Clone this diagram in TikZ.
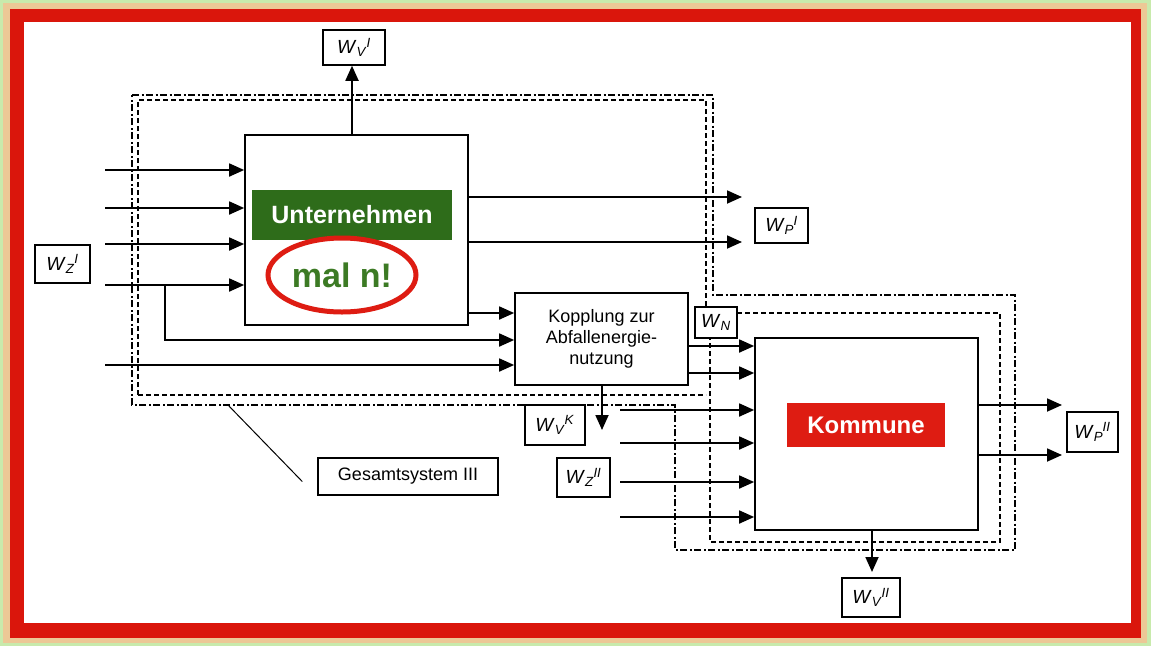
\documentclass[tikz,border=0pt]{standalone}
\usepackage{fontspec}
\setmainfont{Liberation Sans}
\usetikzlibrary{arrows.meta,shapes.geometric,calc}
\definecolor{framered}{RGB}{218,22,12}
\definecolor{frametan}{RGB}{236,200,150}
\definecolor{framegreen}{RGB}{200,234,172}
\definecolor{ugreen}{RGB}{46,108,26}
\definecolor{mgreen}{RGB}{60,122,36}
\definecolor{kred}{RGB}{222,28,18}
\newcommand\Wl[2]{\textit{W}\textsubscript{\textit{#1}}\kern-0.5pt\textsuperscript{\textit{#2}}}
\begin{document}
\begin{tikzpicture}[x=1pt,y=-1pt,
  blk/.style={draw,line width=1.7pt,inner sep=0pt},
  wbox/.style={draw,line width=1.5pt,inner sep=0pt,font=\fontsize{19}{19}\selectfont},
  arr/.style={line width=1.8pt,-{Triangle[length=15pt,width=13pt]}},
  dd/.style={line width=1.7pt,dash pattern=on 7pt off 2.5pt on 2pt off 2.5pt},
  ds/.style={line width=1.7pt,dash pattern=on 5pt off 3pt}]
\useasboundingbox (0,0) rectangle (1151,646);
% frame
\fill[framegreen] (0,0) rectangle (1151,646);
\fill[frametan] (3,3) rectangle (1147,643);
\fill[framered] (10,9) rectangle (1141,638);
\fill[white] (24,22) rectangle (1131,623);

% system boundaries
\draw[dd] (132,95) -- (713,95) -- (713,295) -- (1015,295) -- (1015,550) -- (675,550) -- (675,405) -- (132,405) -- cycle;
\draw[ds] (138,395) -- (138,100) -- (706,100) -- (706,307);
\draw[ds] (737,313) -- (1000,313) -- (1000,542) -- (710,542) -- (710,338);
\draw[ds] (138,395) -- (706,395);

% main blocks
\node[blk,minimum width=223pt,minimum height=190pt] (U) at (356.5,230) {};
\node[fill=ugreen,minimum width=200pt,minimum height=50pt,inner sep=0pt,text=white,font=\fontsize{25}{25}\selectfont\bfseries] (UL) at (352,215) {Unternehmen};
\node[ellipse,draw=kred,line width=5pt,minimum width=148pt,minimum height=74pt,inner sep=0pt,text=mgreen,font=\fontsize{34}{34}\selectfont\bfseries] (ML) at (342,275) {mal n!};
\node[blk,minimum width=173pt,minimum height=92pt,align=center,font=\fontsize{18}{21}\selectfont] (K) at (601.5,339) {Kopplung zur\\Abfallenergie-\\nutzung};
\node[blk,minimum width=223pt,minimum height=192pt] (KO) at (866.5,434) {};
\node[fill=kred,minimum width=158pt,minimum height=44pt,inner sep=0pt,text=white,font=\fontsize{24}{24}\selectfont\bfseries] (KL) at (866,425) {Kommune};

% W boxes
\node[wbox,minimum width=62pt,minimum height=35pt] (WVI) at (354,47.5) {\Wl{V}{I}};
\node[wbox,minimum width=55pt,minimum height=38pt] (WZI) at (62.5,264) {\Wl{Z}{I}};
\node[wbox,minimum width=53pt,minimum height=35pt] (WPI) at (781.5,225.5) {\Wl{P}{I}};
\node[wbox,minimum width=42pt,minimum height=31pt,fill=white] (WN) at (716,322.5) {\textit{W}\textsubscript{\textit{N}}};
\node[wbox,minimum width=60pt,minimum height=40pt] (WVK) at (555,425) {\Wl{V}{K}};
\node[wbox,minimum width=53pt,minimum height=39pt] (WZII) at (583.5,477.5) {\Wl{Z}{II}};
\node[wbox,minimum width=51pt,minimum height=40pt] (WPII) at (1092.5,432) {\Wl{P}{II}};
\node[wbox,minimum width=58pt,minimum height=39pt] (WVII) at (871,597.5) {\Wl{V}{II}};
\node[wbox,minimum width=180pt,minimum height=37pt,font=\fontsize{18}{18}\selectfont] (G) at (408,476.5) {Gesamtsystem III};

% free ends
\coordinate (i1) at (105,170);
\coordinate (i2) at (105,208);
\coordinate (i3) at (105,244);
\coordinate (i4) at (105,285);
\coordinate (i5) at (105,365);
\coordinate (br) at (165,285);
\coordinate (o1) at (742,197);
\coordinate (o2) at (742,242);
\coordinate (kb) at (602,430);
\coordinate (c1) at (620,410);
\coordinate (c2) at (620,443);
\coordinate (c3) at (620,482);
\coordinate (c4) at (620,517);
\coordinate (p1) at (1062,405);
\coordinate (p2) at (1062,455);
\coordinate (vb) at (872,572);
\coordinate (gs) at (228,405);

% Unternehmen inputs
\foreach \c in {i1,i2,i3,i4} \draw[arr] (\c) -- (\c -| U.west);
\draw[arr] (br) -- (165,340) -- (K.west |- 0,340);
\draw[arr] (i5) -- (i5 -| K.west);
\draw[arr] (U.east |- 0,313) -- (K.west |- 0,313);
% Unternehmen outputs
\draw[arr] (U.north -| 352,0) -- (WVI.south -| 352,0);
\draw[arr] (o1 -| U.east) -- (o1);
\draw[arr] (o2 -| U.east) -- (o2);
% Kopplung outputs
\draw[arr] (K.east |- 0,346) -- (KO.west |- 0,346);
\draw[arr] (K.east |- 0,373) -- (KO.west |- 0,373);
\draw[arr] (K.south -| kb) -- (kb);
% Kommune inputs
\foreach \c in {c1,c2,c3,c4} \draw[arr] (\c) -- (\c -| KO.west);
% Kommune outputs
\draw[arr] (p1 -| KO.east) -- (p1);
\draw[arr] (p2 -| KO.east) -- (p2);
\draw[arr] (KO.south -| vb) -- (vb);
% Gesamtsystem pointer
\draw[line width=1pt] (gs) -- ([xshift=-15pt,yshift=-5pt]G.west);
\end{tikzpicture}
\end{document}
